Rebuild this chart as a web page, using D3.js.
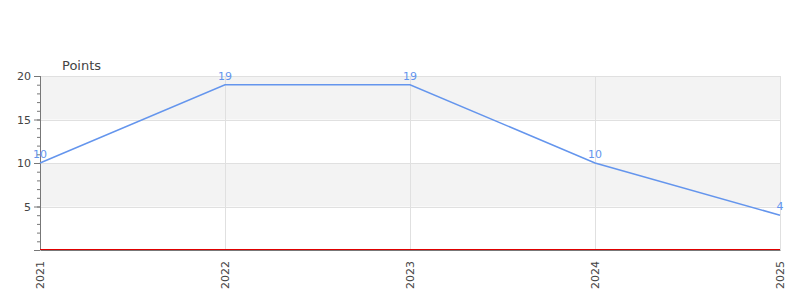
<!DOCTYPE html>
<html>
<head>
<meta charset="utf-8">
<script src="https://cdn.jsdelivr.net/npm/d3@7"></script>
<style>
  body { margin: 0; background: #fff; font-family: "DejaVu Sans", sans-serif; }
  svg text { font-family: "DejaVu Sans", sans-serif; }
  .axis text { fill: #444; font-size: 11px; }
  .axis path, .axis line { stroke: #777; }
</style>
</head>
<body>
<div id="chart"></div>
<script>
// chart data
var years = ["2021", "2022", "2023", "2024", "2025"]
var points = [10, 19, 19, 10, 4]
var y_ticks = [5, 10, 15, 20]

// parameters of the chart
var margin = {top: 76, right: 20, bottom: 50, left: 40},
    width = 800 - margin.left - margin.right,
    height = 300 - margin.top - margin.bottom;

var svg = d3.select("#chart").append("svg")
  .attr("width", 800)
  .attr("height", 300)
  .append("g")
  .attr("transform", "translate(" + margin.left + "," + margin.top + ")");

var x = d3.scalePoint().domain(years).range([0, width]);
var y = d3.scaleLinear().domain([0, 20]).range([height, 0]);

// alternating bands
var bands = [[15, 20], [5, 10]]
svg.selectAll(".band").data(bands).enter().append("rect")
  .attr("class", "band")
  .attr("x", 0)
  .attr("width", width)
  .attr("y", function(d) { return y(d[1]); })
  .attr("height", function(d) { return y(d[0]) - y(d[1]); })
  .style("fill", "#f3f3f3");

// horizontal grid
svg.selectAll(".hgrid").data(y_ticks).enter().append("line")
  .attr("x1", 0).attr("x2", width)
  .attr("y1", function(d) { return Math.round(y(d)) + 0.5; })
  .attr("y2", function(d) { return Math.round(y(d)) + 0.5; })
  .style("stroke", "#e0e0e0");

// vertical grid
svg.selectAll(".vgrid").data(years).enter().append("line")
  .attr("x1", function(d) { return Math.round(x(d)) + 0.5; })
  .attr("x2", function(d) { return Math.round(x(d)) + 0.5; })
  .attr("y1", 0).attr("y2", height)
  .style("stroke", "#e0e0e0");

// minor y ticks
svg.append("g")
  .attr("class", "axis")
  .call(d3.axisLeft(y).tickValues(d3.range(1, 20)).tickSize(3).tickFormat(""))
  .select(".domain").remove();

// y axis
svg.append("g")
  .attr("class", "axis")
  .call(d3.axisLeft(y).tickValues([0].concat(y_ticks)).tickSize(6).tickPadding(3)
    .tickFormat(function(d) { return d == 0 ? "" : d; }))
  .select(".domain").attr("d", "M0.5,0V" + height);

// x axis
svg.append("g")
  .attr("class", "axis")
  .attr("transform", "translate(0," + height + ")")
  .call(d3.axisBottom(x).tickSize(0).tickPadding(10))
  .selectAll("text")
    .attr("transform", "rotate(-90)")
    .attr("x", -11)
    .attr("y", 0)
    .attr("dy", ".35em")
    .style("text-anchor", "end");

// red zero line
svg.append("line")
  .attr("x1", 0).attr("x2", width)
  .attr("y1", height - 0.5).attr("y2", height - 0.5)
  .style("stroke", "#e00000");

// line
var line = d3.line()
  .x(function(d, i) { return x(years[i]); })
  .y(function(d) { return y(d); });

svg.append("path")
  .datum(points)
  .attr("d", line)
  .style("fill", "none")
  .style("stroke", "#6495ed")
  .style("stroke-width", 1.5);

// value labels
svg.selectAll(".label").data(points).enter().append("text")
  .attr("x", function(d, i) { return x(years[i]); })
  .attr("y", function(d) { return y(d) - 5; })
  .attr("text-anchor", "middle")
  .style("font-size", "11px")
  .style("fill", "#6495ed")
  .text(function(d) { return d; });

// y axis title
svg.append("text")
  .attr("x", 22)
  .attr("y", -6)
  .style("font-size", "13px")
  .style("fill", "#444")
  .text("Points");
</script>
</body>
</html>
